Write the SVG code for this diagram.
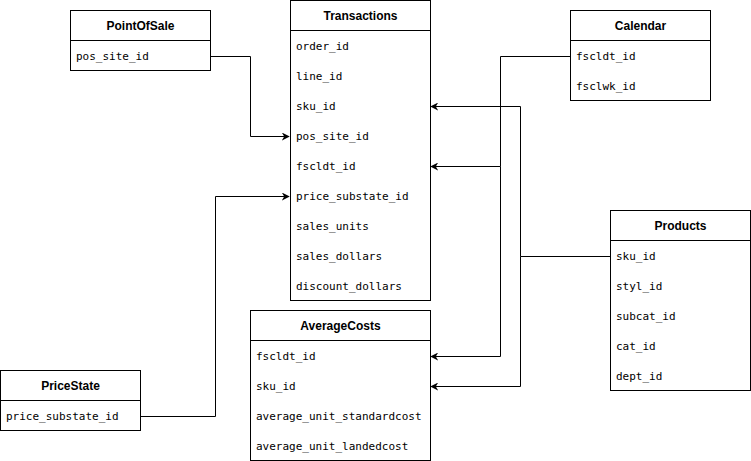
<svg xmlns="http://www.w3.org/2000/svg" width="751" height="461" viewBox="0 0 751 461">
<style>
.box{fill:#fff;stroke:#000;stroke-width:1}
.sep{stroke:#000;stroke-width:1}
.hd{font-family:"Liberation Sans",Arial,sans-serif;font-size:12px;font-weight:bold;text-anchor:middle;fill:#000}
.row{font-family:"DejaVu Sans Mono","Liberation Mono",monospace;font-size:11px;fill:#000}
.con{fill:none;stroke:#000;stroke-width:1}
</style>
<defs>
<marker id="arr" viewBox="0 0 10 10" refX="9" refY="5" markerWidth="8" markerHeight="8" markerUnits="userSpaceOnUse" orient="auto">
<path d="M0,0 L10,5 L0,10 L3,5 Z" fill="#000"/>
</marker>
</defs>
<rect width="751" height="461" fill="#fff"/>
<g id="connectors">
<path class="con" d="M210.5,56.5 H250.5 V136.5 H289" marker-end="url(#arr)"/>
<path class="con" d="M140.5,416.5 H215.5 V196.5 H289" marker-end="url(#arr)"/>
<path class="con" d="M570.5,56.5 H500.5 V166.5 H431" marker-end="url(#arr)"/>
<path class="con" d="M500.5,166.5 V356.5 H431" marker-end="url(#arr)"/>
<path class="con" d="M610.5,256.5 H520.5 V106.5 H431" marker-end="url(#arr)"/>
<path class="con" d="M520.5,256.5 V386.5 H431" marker-end="url(#arr)"/>
</g>
<g id="PointOfSale">
<rect class="box" x="70.5" y="10.5" width="140" height="60"/>
<line class="sep" x1="70.5" y1="40.5" x2="210.5" y2="40.5"/>
<text class="hd" x="140.5" y="29.5">PointOfSale</text>
<text class="row" x="76" y="60">pos_site_id</text>
</g>
<g id="Transactions">
<rect class="box" x="290.5" y="0.5" width="140" height="300"/>
<line class="sep" x1="290.5" y1="30.5" x2="430.5" y2="30.5"/>
<text class="hd" x="360.5" y="19.5">Transactions</text>
<text class="row" x="296" y="50">order_id</text>
<text class="row" x="296" y="80">line_id</text>
<text class="row" x="296" y="110">sku_id</text>
<text class="row" x="296" y="140">pos_site_id</text>
<text class="row" x="296" y="170">fscldt_id</text>
<text class="row" x="296" y="200">price_substate_id</text>
<text class="row" x="296" y="230">sales_units</text>
<text class="row" x="296" y="260">sales_dollars</text>
<text class="row" x="296" y="290">discount_dollars</text>
</g>
<g id="Calendar">
<rect class="box" x="570.5" y="10.5" width="140" height="90"/>
<line class="sep" x1="570.5" y1="40.5" x2="710.5" y2="40.5"/>
<text class="hd" x="640.5" y="29.5">Calendar</text>
<text class="row" x="576" y="60">fscldt_id</text>
<text class="row" x="576" y="90">fsclwk_id</text>
</g>
<g id="Products">
<rect class="box" x="610.5" y="210.5" width="140" height="180"/>
<line class="sep" x1="610.5" y1="240.5" x2="750.5" y2="240.5"/>
<text class="hd" x="680.5" y="229.5">Products</text>
<text class="row" x="616" y="260">sku_id</text>
<text class="row" x="616" y="290">styl_id</text>
<text class="row" x="616" y="320">subcat_id</text>
<text class="row" x="616" y="350">cat_id</text>
<text class="row" x="616" y="380">dept_id</text>
</g>
<g id="AverageCosts">
<rect class="box" x="250.5" y="310.5" width="180" height="150"/>
<line class="sep" x1="250.5" y1="340.5" x2="430.5" y2="340.5"/>
<text class="hd" x="340.5" y="329.5">AverageCosts</text>
<text class="row" x="256" y="360">fscldt_id</text>
<text class="row" x="256" y="390">sku_id</text>
<text class="row" x="256" y="420">average_unit_standardcost</text>
<text class="row" x="256" y="450">average_unit_landedcost</text>
</g>
<g id="PriceState">
<rect class="box" x="0.5" y="370.5" width="140" height="60"/>
<line class="sep" x1="0.5" y1="400.5" x2="140.5" y2="400.5"/>
<text class="hd" x="70.5" y="389.5">PriceState</text>
<text class="row" x="6" y="420">price_substate_id</text>
</g>
</svg>
